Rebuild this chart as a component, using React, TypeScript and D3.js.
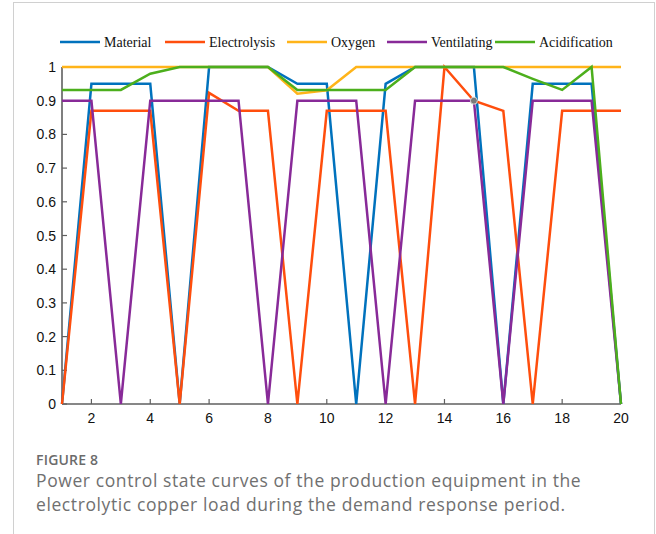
import React from "react";
import * as d3 from "d3";

const periods = d3.range(1, 21);
const material = [0, 0.95, 0.95, 0.95, 0, 1, 1, 1, 0.95, 0.95, 0, 0.95, 1, 1, 1, 0, 0.95, 0.95, 0.95, 0];
const electrolysis = [0, 0.87, 0.87, 0.87, 0, 0.923, 0.87, 0.87, 0, 0.87, 0.87, 0.87, 0, 1, 0.9, 0.87, 0, 0.87, 0.87, 0.87];
const oxygen = [1, 1, 1, 1, 1, 1, 1, 1, 0.921, 0.931, 1, 1, 1, 1, 1, 1, 1, 1, 1, 1];
const ventilating = [0.9, 0.9, 0, 0.9, 0.9, 0.9, 0.9, 0, 0.9, 0.9, 0.9, 0, 0.9, 0.9, 0.9, 0, 0.9, 0.9, 0.9, 0];
const acidification = [0.932, 0.932, 0.932, 0.98, 1, 1, 1, 1, 0.932, 0.932, 0.932, 0.932, 1, 1, 1, 1, 0.965, 0.932, 1, 0];
const seriesNames = ["Material", "Electrolysis", "Oxygen", "Ventilating", "Acidification"];
const seriesColors = ["#0072BD", "#FF4E0D", "#FFB419", "#882A98", "#4CAF1C"];
const seriesValues = [material, electrolysis, oxygen, ventilating, acidification];
const xTicks = [2, 4, 6, 8, 10, 12, 14, 16, 18, 20];
const yTicks = [0, 0.1, 0.2, 0.3, 0.4, 0.5, 0.6, 0.7, 0.8, 0.9, 1];
const markedPoint = { x: 15, y: 0.9 };
const legendLineX = [60, 165, 287, 387, 495];
const captionLabel = "FIGURE 8";
const captionLines = [
  "Power control state curves of the production equipment in the",
  "electrolytic copper load during the demand response period.",
];

export default function App() {
  const x = d3.scaleLinear().domain([1, 20]).range([62, 621]);
  const y = d3.scaleLinear().domain([0, 1]).range([404, 67]);
  const line = d3
    .line<[number, number]>()
    .x((d) => x(d[0]))
    .y((d) => y(d[1]));
  const axisColor = "#5f5f5f";
  const tickFont = "'Liberation Sans', Arial, sans-serif";
  return (
    <svg
      width={656}
      height={534}
      style={{ position: "absolute", left: 0, top: 0, background: "#fff" }}
    >
      <rect x={13.5} y={2.5} width={641} height={600} fill="#fff" stroke="#d0d0d0" strokeWidth={1} />
      {/* legend */}
      {seriesNames.map((n, i) => (
        <g key={n}>
          <line
            x1={legendLineX[i]}
            x2={legendLineX[i] + 40}
            y1={42}
            y2={42}
            stroke={seriesColors[i]}
            strokeWidth={2.5}
          />
          <text
            x={legendLineX[i] + 44}
            y={47}
            fontFamily="'Liberation Serif', 'Times New Roman', serif"
            fontSize={14}
            fill="#111"
          >
            {n}
          </text>
        </g>
      ))}
      {/* axes */}
      <line x1={62} x2={62} y1={y(1)} y2={y(0)} stroke={axisColor} strokeWidth={1.6} />
      <line x1={62} x2={621} y1={y(0)} y2={y(0)} stroke={axisColor} strokeWidth={1.6} />
      {yTicks.map((t) => (
        <g key={t}>
          <line x1={62} x2={67} y1={y(t)} y2={y(t)} stroke={axisColor} strokeWidth={1.2} />
          <text
            x={56}
            y={y(t) + 5}
            textAnchor="end"
            fontFamily={tickFont}
            fontSize={14}
            fill="#111"
          >
            {d3.format("")(t)}
          </text>
        </g>
      ))}
      {xTicks.map((t) => (
        <g key={t}>
          <line x1={x(t)} x2={x(t)} y1={y(0)} y2={y(0) - 5} stroke={axisColor} strokeWidth={1.2} />
          <text
            x={x(t)}
            y={423}
            textAnchor="middle"
            fontFamily={tickFont}
            fontSize={14}
            fill="#111"
          >
            {t}
          </text>
        </g>
      ))}
      {/* series */}
      {seriesValues.map((vals, i) => (
        <path
          key={seriesNames[i]}
          d={line(vals.map((v, j) => [periods[j], v]))!}
          fill="none"
          stroke={seriesColors[i]}
          strokeWidth={2.5}
          strokeLinejoin="miter"
        />
      ))}
      <circle
        cx={x(markedPoint.x)}
        cy={y(markedPoint.y)}
        r={3.5}
        fill="#7a7a7a"
        stroke="#d8d8d8"
        strokeWidth={1}
      />
      {/* caption */}
      <text
        x={36}
        y={465}
        fontFamily="'Open Sans', 'Noto Sans', sans-serif"
        fontWeight={600}
        fontSize={14}
        letterSpacing={0.2}
        fill="#6b6b6b"
      >
        {captionLabel}
      </text>
      {captionLines.map((l, i) => (
        <text
          key={i}
          x={36}
          y={487 + i * 24}
          fontFamily="'Open Sans', 'Noto Sans', sans-serif"
          fontSize={17.5}
          letterSpacing={0.6}
          fill="#707070"
        >
          {l}
        </text>
      ))}
    </svg>
  );
}
